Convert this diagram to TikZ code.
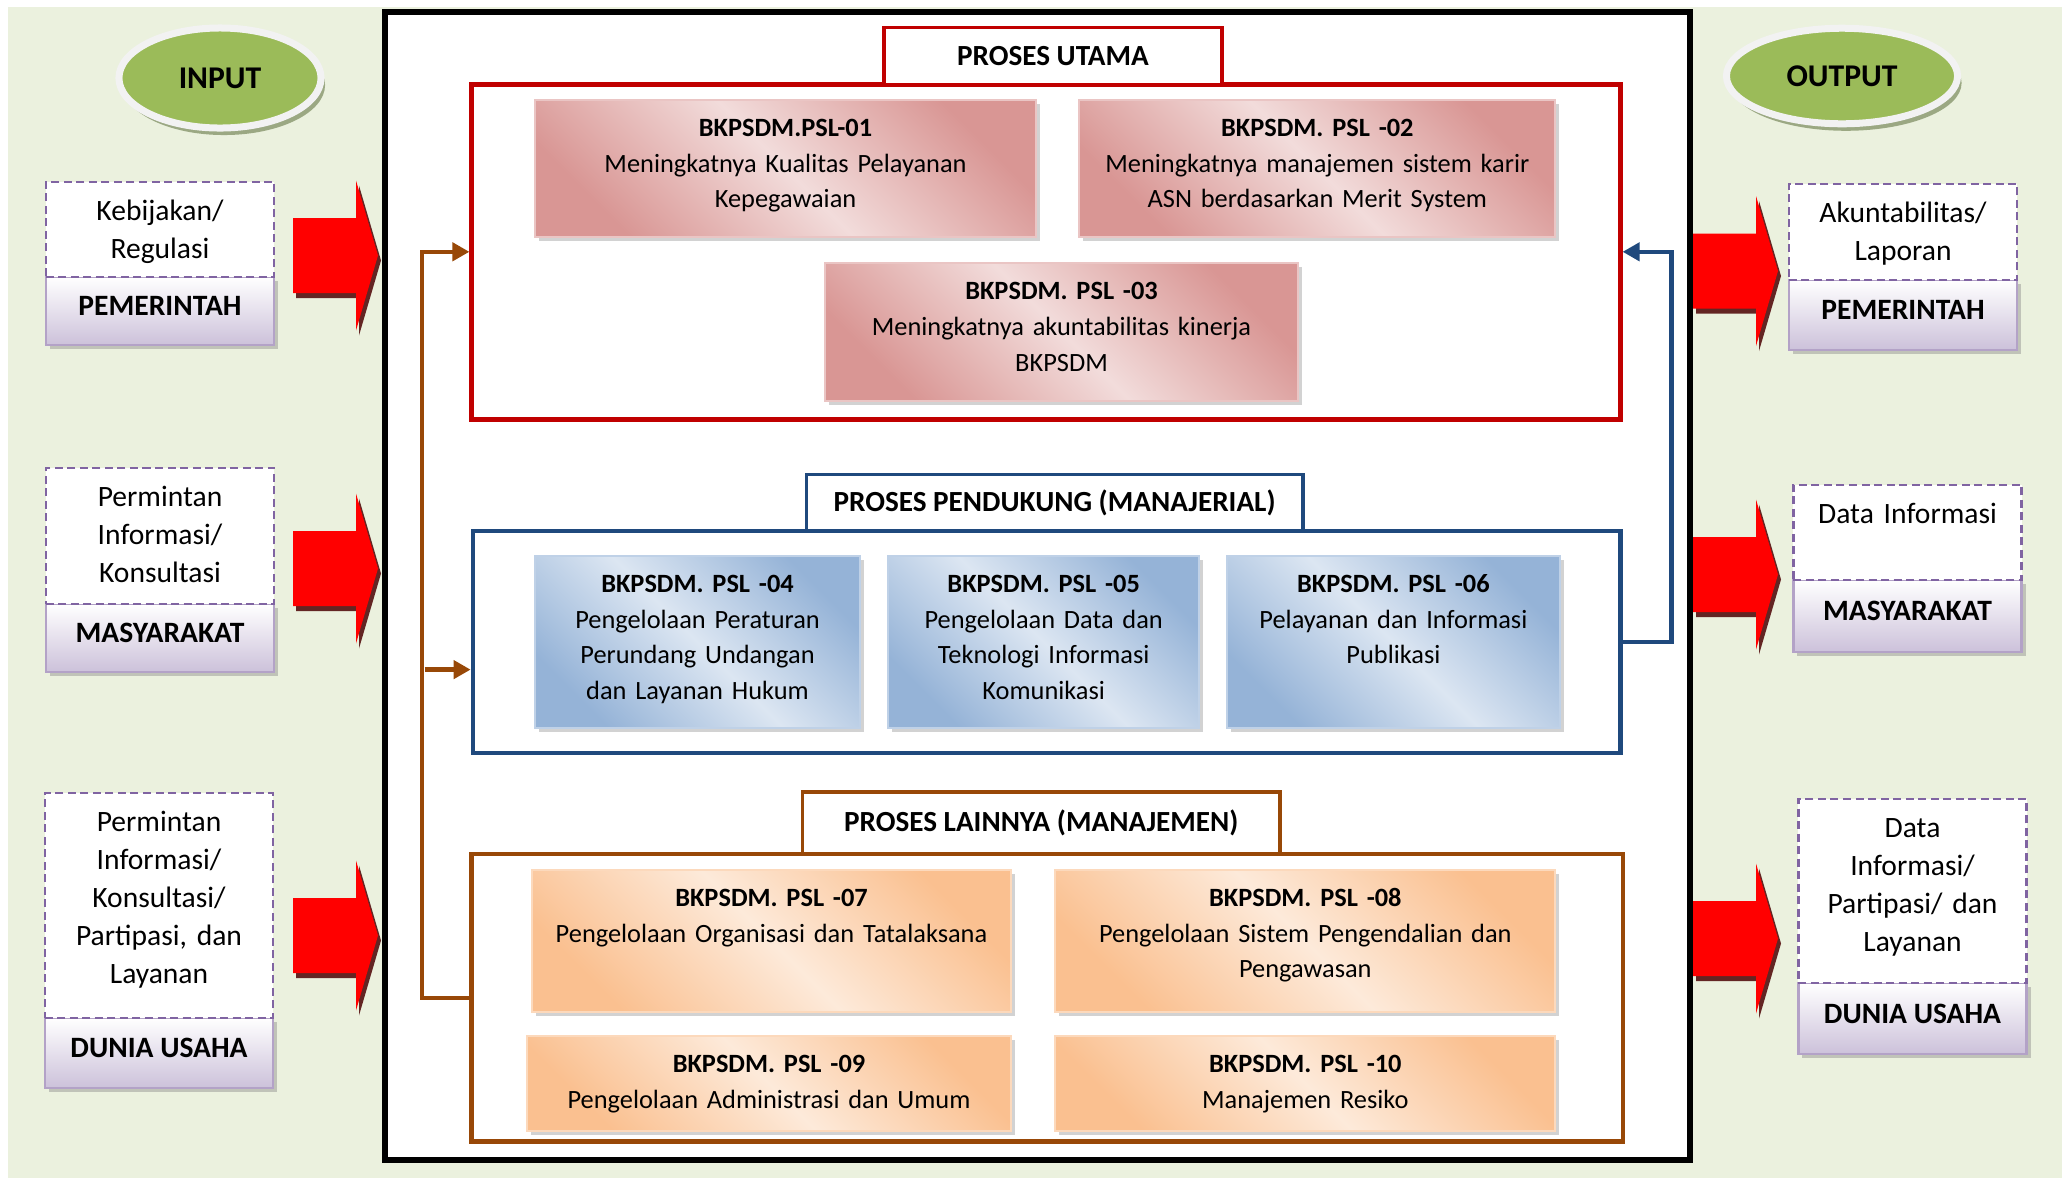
\documentclass[tikz,border=0pt]{standalone}
\usepackage{fontspec}
\setmainfont{Carlito}
\usepackage{tikz}
\usetikzlibrary{shapes.geometric,arrows.meta,positioning,shadows}
\definecolor{bgG}{HTML}{EBF1DE}
\definecolor{greenE}{HTML}{9BBB59}
\definecolor{ovalW}{HTML}{F2F2F2}
\definecolor{shadowG}{HTML}{9BA883}
\definecolor{redP}{HTML}{C00000}
\definecolor{blueP}{HTML}{1F497D}
\definecolor{brownP}{HTML}{984807}
\definecolor{pinkD}{HTML}{D99694}
\definecolor{pinkL}{HTML}{F2DCDB}
\definecolor{blueD}{HTML}{95B3D7}
\definecolor{blueL}{HTML}{DCE6F2}
\definecolor{oranD}{HTML}{FAC090}
\definecolor{oranL}{HTML}{FDEADA}
\definecolor{lavD}{HTML}{CCC1DA}
\definecolor{lavB}{HTML}{B3A2C7}
\definecolor{dashP}{HTML}{8064A2}
\definecolor{arrowR}{HTML}{FF0000}
\definecolor{arrowS}{HTML}{632523}

\begin{document}
\begin{tikzpicture}[x=0.01cm,y=-0.01cm,>={Triangle[length=0.17cm,width=0.18cm]},node distance=0.41cm]
\tikzstyle{oval}=[ellipse,inner sep=0pt,fill=greenE,draw=ovalW,line width=0.07cm,font=\fontsize{9}{11}\selectfont\bfseries,drop shadow={shadow xshift=0.04cm,shadow yshift=-0.07cm,fill=shadowG,opacity=1}]
\tikzstyle{ask}=[draw=dashP,fill=white,dash pattern=on 0.08cm off 0.045cm,line width=0.025cm,align=center,inner sep=0pt,text height=0.39cm,text width=2.28cm,font=\fontsize{8.4}{10.8}\selectfont]
\tikzstyle{who}=[draw=lavB,line width=0.025cm,top color=white,bottom color=lavD,minimum width=2.28cm,text depth=0.1cm,font=\fontsize{8.4}{10.8}\selectfont\bfseries,drop shadow={shadow xshift=0.04cm,shadow yshift=-0.04cm,opacity=0.4}]
\tikzstyle{psl}=[align=center,inner sep=0pt,text height=0.365cm,line width=0.02cm,font=\fontsize{7.5}{10.1}\selectfont,drop shadow={shadow xshift=0.04cm,shadow yshift=-0.04cm,opacity=0.35}]
\tikzstyle{R}=[psl,draw=pinkD!55!white,top color=pinkD,bottom color=pinkD,middle color=pinkL,shading angle=-45]
\tikzstyle{B}=[psl,draw=blueD!60!white,top color=blueD,bottom color=blueD,middle color=blueL,shading angle=-45]
\tikzstyle{O}=[psl,draw=oranD!60!white,top color=oranD,bottom color=oranD,middle color=oranL,shading angle=-45]
\tikzstyle{panel}=[draw,fill=white,line width=0.045cm,inner sep=0pt]
\tikzstyle{tab}=[draw,fill=white,line width=0.035cm,font=\fontsize{8.3}{10}\selectfont\bfseries]
\tikzstyle{feed}=[->,line width=0.045cm]
\useasboundingbox (0,0) rectangle (2067,1178);
\fill[bgG] (8,7) rectangle (2062,1178);
\draw[line width=0.055cm,fill=white] (385,12) rectangle (1690,1160);
% proses utama
\node[panel,draw=redP,minimum width=11.48cm,minimum height=3.348cm] (utama) at (1046,251.8) {};
\node[tab,draw=redP,above=-0.04cm of utama,xshift=0.07cm,minimum width=3.375cm,minimum height=0.567cm] (tutama) {PROSES UTAMA};
\node[R,text width=5.01cm,text depth=1.005cm] (p01) at (785.5,168.5) {\textbf{BKPSDM.PSL-01}\\Meningkatnya Kualitas Pelayanan\\Kepegawaian};
\node[R,right=of p01,text width=4.76cm,text depth=1.005cm] (p02) {\textbf{BKPSDM. PSL -02}\\Meningkatnya manajemen sistem karir\\ASN berdasarkan Merit System};
\node[R,text width=4.73cm,text depth=1.005cm] (p03) at (1061.5,332) {\textbf{BKPSDM. PSL -03}\\Meningkatnya akuntabilitas kinerja\\BKPSDM};
% proses pendukung
\node[panel,draw=blueP,minimum width=11.468cm,minimum height=2.215cm] (duk) at (1046.6,642) {};
\node[tab,draw=blueP,above=-0.04cm of duk,xshift=0.08cm,minimum width=4.96cm,minimum height=0.566cm] (tduk) {PROSES PENDUKUNG (MANAJERIAL)};
\node[B,text width=3.25cm,text depth=1.355cm] (p04) at (697.5,642) {\textbf{BKPSDM. PSL -04}\\Pengelolaan Peraturan\\Perundang Undangan\\dan Layanan Hukum};
\node[B,right=0.26cm of p04,text width=3.11cm,text depth=1.355cm] (p05) {\textbf{BKPSDM. PSL -05}\\Pengelolaan Data dan\\Teknologi Informasi\\Komunikasi};
\node[B,right=0.26cm of p05,text width=3.32cm,text depth=1.355cm] (p06) {\textbf{BKPSDM. PSL -06}\\Pelayanan dan Informasi\\Publikasi};
% proses lainnya
\node[panel,draw=brownP,minimum width=11.508cm,minimum height=2.874cm] (lain) at (1047.3,997.9) {};
\node[tab,draw=brownP,above=-0.04cm of lain,xshift=-0.06cm,minimum width=4.77cm,minimum height=0.62cm] (tlain) {PROSES LAINNYA (MANAJEMEN)};
\node[O,text width=4.79cm,text depth=1.055cm] (p07) at (771.5,941) {\textbf{BKPSDM. PSL -07}\\Pengelolaan Organisasi dan Tatalaksana};
\node[O,right=0.42cm of p07,text width=5cm,text depth=1.055cm] (p08) {\textbf{BKPSDM. PSL -08}\\Pengelolaan Sistem Pengendalian dan\\Pengawasan};
\node[O,text width=4.84cm,text depth=0.585cm] (p09) at (769,1083.5) {\textbf{BKPSDM. PSL -09}\\Pengelolaan Administrasi dan Umum};
\node[O,right=0.42cm of p09,text width=5cm,text depth=0.585cm] (p10) {\textbf{BKPSDM. PSL -10}\\Manajemen Resiko};
% umpan balik
\coordinate (bus) at (424.5,669.6);
\draw[feed,brownP] (lain.west) -- ++(-47.4,0) |- (utama.west);
\draw[feed,brownP] (bus) -- (bus -| duk.west);
\draw[feed,blueP] (duk.east) -- ++(48.8,0) |- (utama.east);
% input
\node[oval,minimum width=2.02cm,minimum height=1cm] (input) at (220,78) {INPUT};
\node[who,minimum height=0.68cm] (lb1) at (160,311) {PEMERINTAH};
\node[ask,above=-0.025cm of lb1,text depth=0.56cm] (lt1) {Kebijakan/\\Regulasi};
\node[who,minimum height=0.68cm] (lb2) at (160,638) {MASYARAKAT};
\node[ask,above=-0.025cm of lb2,text depth=0.97cm] (lt2) {Permintan\\Informasi/\\Konsultasi};
\node[who,minimum height=0.7cm] (lb3) at (159,1053) {DUNIA USAHA};
\node[ask,above=-0.025cm of lb3,text depth=1.86cm] (lt3) {Permintan\\Informasi/\\Konsultasi/\\Partipasi, dan\\Layanan};
% output
\node[oval,minimum width=2.31cm,minimum height=0.955cm] (output) at (1842,76) {OUTPUT};
\node[who,minimum height=0.7cm] (rb1) at (1903,315) {PEMERINTAH};
\node[ask,above=-0.025cm of rb1,text depth=0.57cm] (rt1) {Akuntabilitas/\\Laporan};
\node[who,minimum height=0.72cm] (rb2) at (1907.5,616) {MASYARAKAT};
\node[ask,above=-0.025cm of rb2,text depth=0.56cm] (rt2) {Data Informasi};
\node[who,minimum height=0.71cm] (rb3) at (1912.5,1018.5) {DUNIA USAHA};
\node[ask,above=-0.025cm of rb3,text depth=1.45cm] (rt3) {Data\\Informasi/\\Partipasi/ dan\\Layanan};
% panah besar
\foreach \ax/\ay in {293/255.5,293/568.5,293/935.5,1693/271,1693/574.5,1693/938.5}{
  \fill[arrowS,shift={(\ax+3,\ay+5)}] (0,-37.5) -- (63,-37.5) -- (63,-75) -- (85,0) -- (63,75) -- (63,37.5) -- (0,37.5) -- cycle;
  \fill[arrowR,shift={(\ax,\ay)}] (0,-37.5) -- (63,-37.5) -- (63,-75) -- (85,0) -- (63,75) -- (63,37.5) -- (0,37.5) -- cycle;
}
\end{tikzpicture}
\end{document}
